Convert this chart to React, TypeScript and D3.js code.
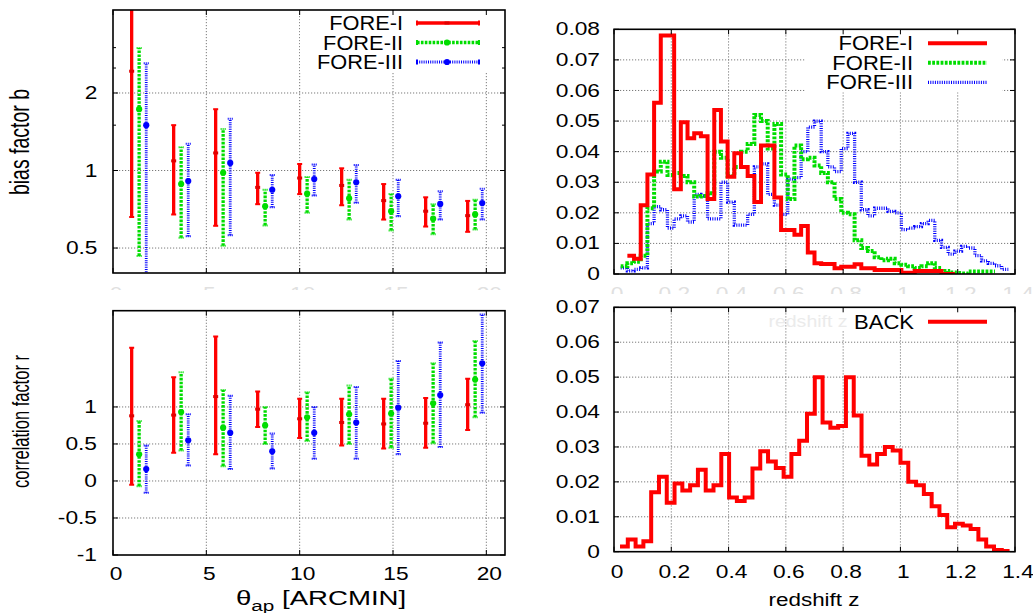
import * as d3 from 'd3';

const FONT = '"Liberation Sans", Arial, Helvetica, sans-serif';
const W = 1033;
const H = 613;

// ---- left column: bias factor b and correlation factor r vs theta_ap ----
const thetaI = [1, 3.25, 5.5, 7.75, 10, 12.25, 14.5, 16.75, 19];
const thetaII = [1.4, 3.65, 5.9, 8.15, 10.4, 12.65, 14.9, 17.15, 19.4];
const thetaIII = [1.78, 4.03, 6.28, 8.53, 10.78, 13.03, 15.28, 17.53, 19.78];

const biasI = [2.43, 1.09, 1.17, 0.86, 0.935, 0.875, 0.764, 0.695, 0.668];
const biasILow = [0.66, 0.675, 0.61, 0.74, 0.81, 0.733, 0.645, 0.606, 0.578];
const biasIHigh = [5, 1.5, 1.73, 0.98, 1.06, 1.02, 0.886, 0.787, 0.762];
const biasII = [1.73, 0.886, 0.98, 0.726, 0.813, 0.78, 0.695, 0.65, 0.675];
const biasIILow = [0.466, 0.548, 0.51, 0.612, 0.685, 0.645, 0.585, 0.565, 0.59];
const biasIIHigh = [2.99, 1.23, 1.45, 0.842, 0.943, 0.92, 0.81, 0.74, 0.77];
const biasIII = [1.5, 0.91, 1.07, 0.842, 0.926, 0.9, 0.794, 0.742, 0.748];
const biasIIILow = [0.38, 0.556, 0.56, 0.72, 0.8, 0.75, 0.665, 0.645, 0.645];
const biasIIIHigh = [2.61, 1.27, 1.59, 0.96, 1.055, 1.05, 0.92, 0.83, 0.85];

const corrI = [0.88, 0.89, 1.14, 0.97, 0.84, 0.79, 0.77, 0.78, 1.03];
const corrILow = [-0.05, 0.38, 0.36, 0.73, 0.58, 0.48, 0.44, 0.45, 0.69];
const corrIHigh = [1.8, 1.4, 1.95, 1.21, 1.11, 1.11, 1.11, 1.12, 1.38];
const corrII = [0.36, 0.93, 0.72, 0.75, 0.86, 0.9, 0.91, 1.05, 1.37];
const corrIILow = [-0.07, 0.41, 0.2, 0.5, 0.54, 0.5, 0.45, 0.51, 0.86];
const corrIIHigh = [0.81, 1.47, 1.23, 1.0, 1.2, 1.29, 1.38, 1.59, 1.89];
const corrIII = [0.16, 0.55, 0.65, 0.4, 0.65, 0.79, 0.99, 1.16, 1.59];
const corrIIILow = [-0.16, 0.21, 0.16, 0.17, 0.3, 0.3, 0.36, 0.46, 0.92];
const corrIIIHigh = [0.48, 0.9, 1.15, 0.64, 1.0, 1.27, 1.62, 1.87, 2.25];

const thetaTicks = [0, 5, 10, 15, 20];
const biasTicks = [0.5, 1, 2];
const biasMinorTicks = [1.5, 2.5, 3];
const corrTicks = [-1, -0.5, 0, 0.5, 1];

// ---- right column: redshift distributions ----
const topBinWidth = 1.4 / 60;
const foreIFirstBin = 2;
const foreIHist = [0.006, 0.005, 0.0225, 0.0325, 0.056, 0.078, 0.078, 0.0277, 0.0496, 0.0444,
  0.046, 0.045, 0.0245, 0.0536, 0.0433, 0.0318, 0.0395, 0.035, 0.032, 0.0235,
  0.042, 0.042, 0.025, 0.0144, 0.0144, 0.0128, 0.0157, 0.007, 0.0035, 0.0033,
  0.0033, 0.0019, 0.0024, 0.0024, 0.0032, 0.0019, 0.0019, 0.0013, 0.0013, 0.0013,
  0.0013, 0.0004, 0.0004, 0.001, 0.001, 0.001, 0.001, 0, 0];
const foreIIFirstBin = 1;
const foreIIHist = [0.0025, 0.0035, 0.004, 0.006, 0.0215, 0.0335, 0.0367, 0.0324, 0.033, 0.032,
  0.03, 0.0253, 0.0255, 0.0264, 0.04, 0.038, 0.032, 0.035, 0.04, 0.0425,
  0.052, 0.05, 0.041, 0.049, 0.0325, 0.0245, 0.042, 0.0375, 0.038, 0.0355,
  0.033, 0.03, 0.0245, 0.02, 0.0195, 0.011, 0.0085, 0.0075, 0.0055, 0.0045,
  0.005, 0.0035, 0.003, 0.0025, 0.002, 0.0025, 0.0035, 0.002, 0.001, 0.0005,
  0.0003, 0.0002, 0.0008, 0.0008, 0.0008, 0.0008];
const foreIIIFirstBin = 1;
const foreIIIHist = [0.002, 0.001, 0.0015, 0.002, 0.0165, 0.022, 0.021, 0.015, 0.018, 0.019,
  0.017, 0.026, 0.0255, 0.018, 0.018, 0.03, 0.0235, 0.016, 0.016, 0.0195,
  0.035, 0.036, 0.026, 0.0225, 0.0195, 0.031, 0.0315, 0.04, 0.048, 0.05,
  0.04, 0.035, 0.0335, 0.041, 0.046, 0.03, 0.021, 0.019, 0.0215, 0.0215,
  0.0205, 0.02, 0.0145, 0.015, 0.0155, 0.0165, 0.0175, 0.011, 0.0087, 0.0065,
  0.0075, 0.009, 0.0085, 0.006, 0.0043, 0.0035, 0.0027, 0.0015];

const backStart = 0.021;
const backBinWidth = 0.0272;
const backHist = [0.0015, 0.0035, 0.0015, 0.003, 0.017, 0.0215, 0.014, 0.0195, 0.0175, 0.019,
  0.0235, 0.0175, 0.019, 0.028, 0.0155, 0.0145, 0.0155, 0.0238, 0.0288, 0.0258,
  0.024, 0.0215, 0.028, 0.0318, 0.0395, 0.05, 0.037, 0.0355, 0.036, 0.05,
  0.039, 0.0275, 0.025, 0.028, 0.03, 0.029, 0.0255, 0.02, 0.019, 0.0165,
  0.013, 0.0105, 0.007, 0.008, 0.0075, 0.0065, 0.0035, 0.0015, 0.0005, 0.0002];

const zTicks = [0, 0.2, 0.4, 0.6, 0.8, 1, 1.2, 1.4];
const nzTopTicks = [0, 0.01, 0.02, 0.03, 0.04, 0.05, 0.06, 0.07, 0.08];
const nzBottomTicks = [0, 0.01, 0.02, 0.03, 0.04, 0.05, 0.06, 0.07];

const RED = '#ff0000';
const GREEN = '#00dd00';
const BLUE = '#0000ff';
const GRID = '#7a7a7a';

const errStyles = [
  { color: RED, width: 3.3, dash: undefined, dot: false },
  { color: GREEN, width: 3.3, dash: '2.6,1.3', dot: true },
  { color: BLUE, width: 2.8, dash: '1,1.2', dot: true },
];
const histStyles = [
  { color: RED, width: 4, dash: undefined },
  { color: GREEN, width: 4, dash: '2.8,1.4' },
  { color: BLUE, width: 3.3, dash: '1,1.3' },
];

const boxTL = { left: 113, right: 505, top: 10, bottom: 273 };
const boxBL = { left: 113, right: 505, top: 310.7, bottom: 555 };
const boxTR = { left: 614, right: 1015, top: 29.3, bottom: 274 };
const boxBR = { left: 614, right: 1015, top: 307.3, bottom: 551.7 };

function Txt({ x, y, size, sx = 1, anchor = 'middle', fill = '#000', rotate = 0, children }: any) {
  const t = `translate(${x},${y}) scale(${sx},1)` + (rotate ? ` rotate(${rotate})` : '');
  return (
    <text transform={t} fontSize={size} textAnchor={anchor} dominantBaseline="central"
      fill={fill} fontFamily={FONT}>{children}</text>
  );
}

function Grid({ x, y, xs, ys, box }: any) {
  return (
    <g stroke={GRID} strokeWidth={1} strokeDasharray="1.2,1.8" fill="none">
      {xs.map((v: number) => (
        <line key={'gx' + v} x1={x(v)} x2={x(v)} y1={box.top} y2={box.bottom} />
      ))}
      {ys.map((v: number) => (
        <line key={'gy' + v} x1={box.left} x2={box.right} y1={y(v)} y2={y(v)} />
      ))}
    </g>
  );
}

function Frame({ x, y, xs, ys, minor = [], box }: any) {
  const L = 5;
  return (
    <g stroke="#000" fill="none">
      <g strokeWidth={1}>
        {xs.map((v: number) => (
          <g key={'tx' + v}>
            <line x1={x(v)} x2={x(v)} y1={box.bottom} y2={box.bottom - L} />
            <line x1={x(v)} x2={x(v)} y1={box.top} y2={box.top + L} />
          </g>
        ))}
        {ys.map((v: number) => (
          <g key={'ty' + v}>
            <line x1={box.left} x2={box.left + L} y1={y(v)} y2={y(v)} />
            <line x1={box.right} x2={box.right - L} y1={y(v)} y2={y(v)} />
          </g>
        ))}
        {minor.map((v: number) => (
          <g key={'tm' + v}>
            <line x1={box.left} x2={box.left + 3} y1={y(v)} y2={y(v)} />
            <line x1={box.right} x2={box.right - 3} y1={y(v)} y2={y(v)} />
          </g>
        ))}
      </g>
      <rect x={box.left} y={box.top} width={box.right - box.left} height={box.bottom - box.top}
        strokeWidth={1.6} />
    </g>
  );
}

function ErrorBars({ theta, val, lo, hi, x, y, st }: any) {
  return (
    <g stroke={st.color} fill="none">
      {theta.map((t: number, i: number) => {
        const cx = x(t);
        return (
          <g key={i}>
            <line x1={cx} x2={cx} y1={y(lo[i])} y2={y(hi[i])} strokeWidth={st.width}
              strokeDasharray={st.dash} />
            <line x1={cx - 2.5} x2={cx + 2.5} y1={y(lo[i])} y2={y(lo[i])} strokeWidth={2}
              strokeDasharray={st.dash ? '1,1' : undefined} />
            <line x1={cx - 2.5} x2={cx + 2.5} y1={y(hi[i])} y2={y(hi[i])} strokeWidth={2}
              strokeDasharray={st.dash ? '1,1' : undefined} />
            {st.dot
              ? <circle cx={cx} cy={y(val[i])} r={3.1} fill={st.color} stroke="none" />
              : <rect x={cx - 2.5} y={y(val[i]) - 1.5} width={5} height={3} fill="#e00000" stroke="none" />}
          </g>
        );
      })}
    </g>
  );
}

function stepPath(x: any, y: any, start: number, width: number, values: number[]) {
  const pts: [number, number][] = values.map((v, i) => [start + i * width, v]);
  pts.push([start + values.length * width, values[values.length - 1]]);
  return d3.line<[number, number]>()
    .x(d => x(d[0]))
    .y(d => y(d[1]))
    .curve(d3.curveStepAfter)(pts) as string;
}

function FaintTicks({ x, ticks, yc, clipId, fmt }: any) {
  return (
    <g clipPath={`url(#${clipId})`}>
      {ticks.map((v: number) => (
        <Txt key={'f' + v} x={x(v) + 3} y={yc} size={17.5} sx={1.3} fill="#e0e0e0">{fmt(v)}</Txt>
      ))}
    </g>
  );
}

export default function App() {
  const xTheta = d3.scaleLinear().domain([0, 21]).range([boxTL.left, boxTL.right]);
  const yBias = d3.scaleLog().domain([0.4, 4.2]).range([boxTL.bottom, boxTL.top]);
  const yCorr = d3.scaleLinear().domain([-1, 2.3]).range([boxBL.bottom, boxBL.top]);
  const xZ = d3.scaleLinear().domain([0, 1.4]).range([boxTR.left, boxTR.right]);
  const yNzTop = d3.scaleLinear().domain([0, 0.08]).range([boxTR.bottom, boxTR.top]);
  const yNzBot = d3.scaleLinear().domain([0, 0.07]).range([boxBR.bottom, boxBR.top]);

  const fmt = (v: number) => String(v);

  const biasSeries = [
    { theta: thetaI, val: biasI, lo: biasILow, hi: biasIHigh },
    { theta: thetaII, val: biasII, lo: biasIILow, hi: biasIIHigh },
    { theta: thetaIII, val: biasIII, lo: biasIIILow, hi: biasIIIHigh },
  ];
  const corrSeries = [
    { theta: thetaI, val: corrI, lo: corrILow, hi: corrIHigh },
    { theta: thetaII, val: corrII, lo: corrIILow, hi: corrIIHigh },
    { theta: thetaIII, val: corrIII, lo: corrIIILow, hi: corrIIIHigh },
  ];
  const topHists = [
    { first: foreIFirstBin, values: foreIHist },
    { first: foreIIFirstBin, values: foreIIHist },
    { first: foreIIIFirstBin, values: foreIIIHist },
  ];
  const names = ['FORE-I', 'FORE-II', 'FORE-III'];

  const clip = (id: string, b: any) => (
    <clipPath id={id}>
      <rect x={b.left} y={b.top} width={b.right - b.left} height={b.bottom - b.top} />
    </clipPath>
  );

  return (
    <svg width={W} height={H} style={{ position: 'absolute', left: 0, top: 0, background: '#fff' }}
      fontFamily={FONT}>
      <defs>
        {clip('cTL', boxTL)}
        {clip('cBL', boxBL)}
        {clip('cTR', boxTR)}
        {clip('cBR', boxBR)}
        <clipPath id="fTL"><rect x={100} y={280} width={420} height={10} /></clipPath>
        <clipPath id="fTR"><rect x={600} y={280} width={433} height={14} /></clipPath>
      </defs>
      <rect x={0} y={0} width={W} height={H} fill="#fff" />

      {/* faint remnants of the hidden x tick labels of the upper panels */}
      <FaintTicks x={xTheta} ticks={thetaTicks} yc={294} clipId="fTL" fmt={fmt} />
      <FaintTicks x={xZ} ticks={zTicks} yc={294} clipId="fTR" fmt={fmt} />

      {/* ---------- top left: bias factor ---------- */}
      <Grid x={xTheta} y={yBias} xs={thetaTicks.slice(1)} ys={biasTicks} box={boxTL} />
      <rect x={300} y={boxTL.top + 1} width={200} height={62} fill="#fff" />
      <g clipPath="url(#cTL)">
        {biasSeries.map((s, i) => (
          <ErrorBars key={i} {...s} x={xTheta} y={yBias} st={errStyles[i]} />
        ))}
      </g>
      <Frame x={xTheta} y={yBias} xs={thetaTicks} ys={biasTicks} minor={biasMinorTicks} box={boxTL} />
      {biasTicks.map(v => (
        <Txt key={v} x={97.5} y={yBias(v)} size={17.5} sx={1.3} anchor="end">{fmt(v)}</Txt>
      ))}
      <Txt x={19} y={142} size={19.5} sx={1.42} rotate={-90}>bias factor b</Txt>
      {names.map((n, i) => {
        const yy = 23 + i * 19.5;
        const st = errStyles[i];
        return (
          <g key={n}>
            <Txt x={403} y={yy} size={20} sx={1.09} anchor="end">{n}</Txt>
            <line x1={417} x2={479} y1={yy} y2={yy} stroke={st.color} strokeWidth={st.width}
              strokeDasharray={st.dash} />
            <line x1={417} x2={417} y1={yy - 2.5} y2={yy + 2.5} stroke={st.color} strokeWidth={2} />
            <line x1={479} x2={479} y1={yy - 2.5} y2={yy + 2.5} stroke={st.color} strokeWidth={2} />
            {st.dot
              ? <circle cx={447} cy={yy} r={3.1} fill={st.color} />
              : <rect x={444.5} y={yy - 1.5} width={5} height={3} fill="#e00000" />}
          </g>
        );
      })}

      {/* ---------- bottom left: correlation factor ---------- */}
      <Grid x={xTheta} y={yCorr} xs={thetaTicks.slice(1)} ys={corrTicks.slice(1)} box={boxBL} />
      <g clipPath="url(#cBL)">
        {corrSeries.map((s, i) => (
          <ErrorBars key={i} {...s} x={xTheta} y={yCorr} st={errStyles[i]} />
        ))}
      </g>
      <Frame x={xTheta} y={yCorr} xs={thetaTicks} ys={corrTicks} box={boxBL} />
      {corrTicks.map(v => (
        <Txt key={v} x={97} y={yCorr(v)} size={17.5} sx={1.3} anchor="end">{fmt(v)}</Txt>
      ))}
      {thetaTicks.map(v => (
        <Txt key={v} x={xTheta(v) + 3} y={574} size={17.5} sx={1.3}>{fmt(v)}</Txt>
      ))}
      <Txt x={20.5} y={421.5} size={16.5} sx={1.42} rotate={-90}>correlation factor r</Txt>
      <text transform="translate(236,605) scale(1.38,1)" fontSize={20} fontFamily={FONT}>
        θ<tspan fontSize={15} dy={6}>ap</tspan><tspan dy={-6}> [ARCMIN]</tspan>
      </text>

      {/* ---------- top right: foreground redshift distributions ---------- */}
      <Grid x={xZ} y={yNzTop} xs={zTicks.slice(1, -1)} ys={nzTopTicks.slice(1, -1)} box={boxTR} />
      <rect x={805} y={boxTR.top + 1} width={197} height={62} fill="#fff" />
      <g clipPath="url(#cTR)" fill="none">
        {topHists.map((h, i) => (
          <path key={i}
            d={stepPath(xZ, yNzTop, h.first * topBinWidth, topBinWidth, h.values)}
            stroke={histStyles[i].color} strokeWidth={histStyles[i].width}
            strokeDasharray={histStyles[i].dash} strokeLinejoin="miter" />
        )).reverse()}
      </g>
      <Frame x={xZ} y={yNzTop} xs={zTicks} ys={nzTopTicks} box={boxTR} />
      {nzTopTicks.map(v => (
        <Txt key={v} x={600} y={yNzTop(v)} size={17.5} sx={1.3} anchor="end">{fmt(v)}</Txt>
      ))}
      {names.map((n, i) => {
        const yy = 43.3 + i * 19.5;
        const st = histStyles[i];
        return (
          <g key={n}>
            <Txt x={913} y={yy} size={20} sx={1.1} anchor="end">{n}</Txt>
            <line x1={928} x2={987} y1={yy} y2={yy} stroke={st.color} strokeWidth={st.width}
              strokeDasharray={st.dash} />
          </g>
        );
      })}

      {/* ---------- bottom right: background redshift distribution ---------- */}
      <Grid x={xZ} y={yNzBot} xs={zTicks.slice(1, -1)} ys={nzBottomTicks.slice(1, -1)} box={boxBR} />
      <rect x={835} y={boxBR.top + 1} width={167} height={22} fill="#fff" />
      <Txt x={808} y={321} size={17} sx={1.15} fill="#ebebeb">redshift z</Txt>
      <g clipPath="url(#cBR)" fill="none">
        <path d={stepPath(xZ, yNzBot, backStart, backBinWidth, backHist)} stroke={RED}
          strokeWidth={4} />
      </g>
      <Frame x={xZ} y={yNzBot} xs={zTicks} ys={nzBottomTicks} box={boxBR} />
      {nzBottomTicks.map(v => (
        <Txt key={v} x={600} y={yNzBot(v)} size={17.5} sx={1.3} anchor="end">{fmt(v)}</Txt>
      ))}
      {zTicks.map(v => (
        <Txt key={v} x={xZ(v) + 3} y={571.7} size={17.5} sx={1.3}>{fmt(v)}</Txt>
      ))}
      <Txt x={914} y={321.7} size={20} sx={1.1} anchor="end">BACK</Txt>
      <line x1={928} x2={987} y1={321.7} y2={321.7} stroke={RED} strokeWidth={4} />
      <text transform="translate(814,606) scale(1.18,1)" fontSize={19} textAnchor="middle"
        fontFamily={FONT}>redshift z</text>
    </svg>
  );
}
